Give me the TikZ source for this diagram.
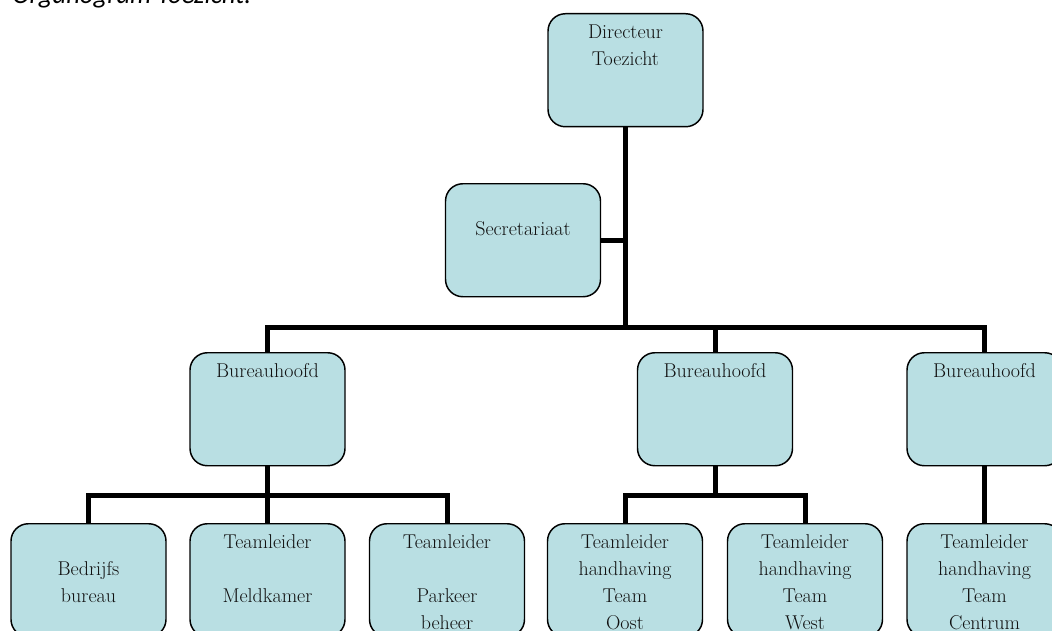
\documentclass[tikz,border=0pt]{standalone}
\usepackage{fontspec}
\newfontfamily\titlefont{Carlito}
\usepackage{tikz}
\usetikzlibrary{positioning, backgrounds}
\definecolor{BoxFill}{HTML}{B9DFE3}
\definecolor{Ink}{HTML}{111111}

\begin{document}
\begin{tikzpicture}[
    x=0.75pt, y=-0.75pt,
    unit/.style={draw=black, line width=1.1pt, fill=BoxFill, rounded corners=13pt, anchor=north,
        minimum width=116.25pt, text width=110pt, inner sep=0pt, align=center,
        text height=18.75pt, text depth=66pt, text=Ink,
        font=\fontsize{15pt}{20.25pt}\selectfont},
    conn/.style={line width=3.75pt, line join=miter, color=black}
]
\clip (0,0) rectangle (1052,631);

% Title (cut at the top edge)
\node[anchor=base west, inner sep=0pt, font=\titlefont\itshape\fontsize{20pt}{24pt}\selectfont] (title) at (12,4) {Organogram Toezicht.};

% Top level
\node[unit] (dir) at (625.5,13) {Directeur\\Toezicht};
\node[unit] (sec) at (523,183) {\mbox{}\\Secretariaat};

% Bureau heads
\node[unit] (bh1) at (267.5,352) {Bureauhoofd};
\node[unit] (bh2) at (715,352) {Bureauhoofd};
\node[unit] (bh3) at (984.5,352) {Bureauhoofd};

% Team leaders
\node[unit] (tl1) at (88.5,523) {\mbox{}\\Bedrijfs\\bureau};
\node[unit] (tl2) at (267.5,523) {Teamleider\\\mbox{}\\Meldkamer};
\node[unit] (tl3) at (447,523) {Teamleider\\\mbox{}\\Parkeer\\beheer};
\node[unit] (tl4) at (625,523) {Teamleider\\handhaving\\Team\\Oost};
\node[unit] (tl5) at (805,523) {Teamleider\\handhaving\\Team\\West};
\node[unit] (tl6) at (984.5,523) {Teamleider\\handhaving\\Team\\Centrum};

% Junctions
\coordinate (jtop) at (625.5,327);
\coordinate (jleft) at (267.5,495);
\coordinate (jmid) at (715,495);

% Connectors
\begin{scope}[on background layer]
\draw[conn] (dir.south) -- (jtop);
\draw[conn] (sec.east) -- (sec.east -| jtop);
\draw[conn] (bh1.north) |- (jtop) -| (bh3.north);
\draw[conn] (bh2.north) -- (bh2.north |- jtop);
\draw[conn] (tl1.north) |- (jleft) -| (tl3.north);
\draw[conn] (bh1.south) -- (tl2.north);
\draw[conn] (tl4.north) |- (jmid) -| (tl5.north);
\draw[conn] (bh2.south) -- (jmid);
\draw[conn] (bh3.south) -- (tl6.north);
\end{scope}

\end{tikzpicture}
\end{document}
